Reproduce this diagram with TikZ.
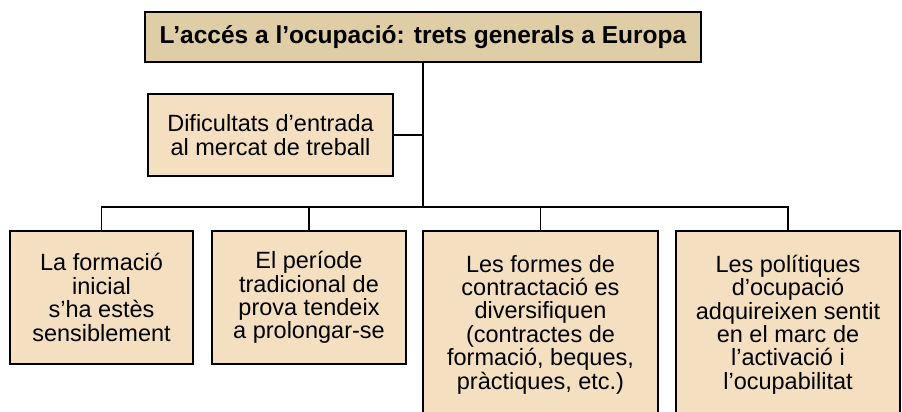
\documentclass[tikz,border=0pt]{standalone}
\usepackage{fontspec}
\setmainfont{Liberation Sans}
\usetikzlibrary{calc}
\definecolor{titlefill}{RGB}{223,205,166}
\definecolor{boxfill}{RGB}{244,224,192}
\tikzset{
  headbox/.style={draw=black, fill=titlefill, line width=1.8pt, minimum width=556pt, minimum height=50pt, inner sep=0pt, font=\fontsize{24.5}{28}\selectfont\bfseries},
  itembox/.style={draw=black, fill=boxfill, line width=1.8pt, align=center, inner sep=0pt, font=\fontsize{23.5}{23.4}\selectfont},
  link/.style={line width=1.8pt}
}
\begin{document}
\begin{tikzpicture}[x=1pt, y=-1pt]
    \useasboundingbox (0,0) rectangle (902,412);

    % Title
    \node[headbox] (title) at (423, 37) {L’accés a l’ocupació: trets generals a Europa};

    % Side note
    \node[itembox, minimum width=245pt, minimum height=82pt] (entry) at (270.5, 135)
        {Dificultats d’entrada\\al mercat de treball};

    % Bottom row
    \node[itembox, minimum width=183pt, minimum height=133pt] (training) at (101.5, 297.5)
        {La formació\\inicial\\s’ha estès\\sensiblement};
    \node[itembox, minimum width=194pt, minimum height=133pt] (trial) at (309, 297.5)
        {El període\\tradicional de\\prova tendeix\\a prolongar-se};
    \node[itembox, minimum width=235pt, minimum height=187pt] (contracts) at (540.5, 324.5)
        {Les formes de\\contractació es\\diversifiquen\\(contractes de\\formació, beques,\\pràctiques, etc.)};
    \node[itembox, minimum width=224pt, minimum height=187pt] (policies) at (788, 324.5)
        {Les polítiques\\d’ocupació\\adquireixen sentit\\en el marc de\\l’activació i\\l’ocupabilitat};

    % Connectors
    \coordinate (bus) at (0, 207);
    \draw[link] (title.south) -- (title.south |- bus);
    \draw[link] (entry.east) -- (title.south |- entry.east);
    \draw[link] (training.north) -- (training.north |- bus) -- (policies.north |- bus) -- (policies.north);
    \draw[link] (trial.north) -- (trial.north |- bus);
    \draw[link] (contracts.north) -- (contracts.north |- bus);
\end{tikzpicture}
\end{document}
